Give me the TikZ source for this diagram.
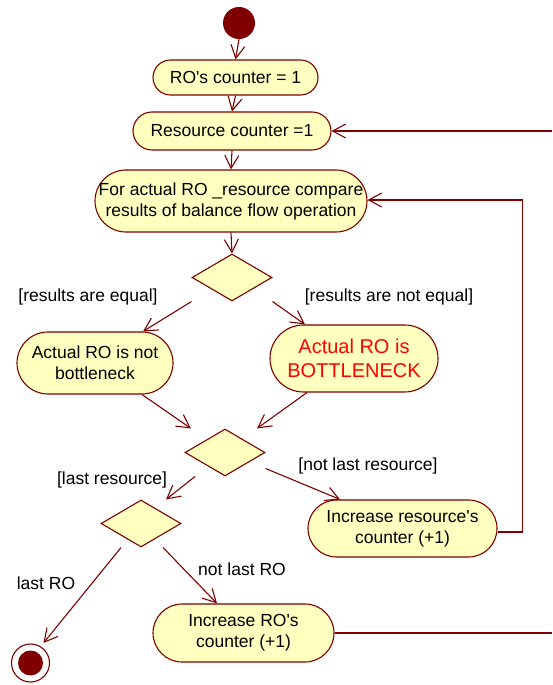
\documentclass[tikz,border=0pt]{standalone}
\usepackage{fontspec}
\setmainfont{Liberation Sans}
\usetikzlibrary{arrows.meta,shapes.geometric}

\definecolor{umlline}{RGB}{128,0,0}
\definecolor{umlfill}{RGB}{255,255,192}
\definecolor{alertred}{RGB}{255,0,0}

\tikzset{
  action/.style={draw=umlline, fill=umlfill, line width=1.1pt, inner sep=0pt,
    align=center, font=\fontsize{17.5}{21}\selectfont},
  decision/.style={draw=umlline, fill=umlfill, line width=1.1pt, shape=diamond,
    inner sep=0pt, minimum width=80pt, minimum height=47pt},
  guard/.style={inner sep=0pt, font=\fontsize{17.5}{21}\selectfont},
  flow/.style={draw=umlline, line width=1.1pt,
    -{Straight Barb[length=13pt,width=14pt,line width=1.1pt]}},
  plain/.style={draw=umlline, line width=1.1pt},
}

\begin{document}
\begin{tikzpicture}[x=1pt,y=1pt]
\useasboundingbox (0,0) rectangle (552,685);

% initial and final states
\node[circle, fill=umlline, minimum size=32pt, inner sep=0pt] (start) at (239,662) {};
\node[circle, draw=umlline, fill=white, line width=1.1pt, minimum size=38pt, inner sep=0pt] (endn) at (30.5,22) {};
\fill[umlline] (endn.center) circle (12.5pt);

% actions
\node[action, minimum width=165pt, minimum height=35pt, rounded corners=17.5pt] (ro) at (235.5,607.5) {RO\textquotesingle s counter = 1};
\node[action, minimum width=198pt, minimum height=38pt, rounded corners=19pt] (res) at (232,554) {Resource counter =1};
\node[action, minimum width=272pt, minimum height=62pt, rounded corners=31pt] (cmp) at (231,484) {For actual RO \_resource compare\\results of balance flow operation};
\node[action, minimum width=156pt, minimum height=62pt, rounded corners=31pt] (notb) at (95,322) {Actual RO is not\\bottleneck};
\node[action, minimum width=168pt, minimum height=67pt, rounded corners=33.5pt, text=alertred, font=\fontsize{20}{24}\selectfont] (bott) at (354,326.5) {Actual RO is\\BOTTLENECK};
\node[action, minimum width=189pt, minimum height=57pt, rounded corners=28.5pt] (incres) at (402.5,156.5) {Increase resource\textquotesingle s\\counter (+1)};
\node[action, minimum width=181pt, minimum height=58pt, rounded corners=29pt] (incro) at (243.5,52) {Increase RO\textquotesingle s\\counter (+1)};

% decisions
\node[decision] (d1) at (232,407.5) {};
\node[decision] (d2) at (225,232.5) {};
\node[decision] (d3) at (141,161.5) {};

% loop corners and free ends
\coordinate (loopin) at (522.5,485);
\coordinate (loopout) at (522.5,153);
\coordinate (topedge) at (552,554);
\coordinate (botedge) at (552,52);

% main flow
\draw[flow] (start.south) -- (ro.north);
\draw[flow] (ro.south) -- (res.north);
\draw[flow] (res.south) -- (cmp.north);
\draw[flow] (cmp.south) -- (d1.north);

\draw[flow] (d1.west |- d1.south) -- ([xshift=48pt]notb.north);
\draw[flow] (d1.east |- d1.south) -- ([xshift=-49pt]bott.north);
\draw[flow] ([xshift=47pt]notb.south) -- ([xshift=-34pt]d2.north);
\draw[flow] ([xshift=-47pt]bott.south) -- ([xshift=32pt]d2.north);
\draw[flow] ([xshift=-30pt]d2.south) -- ([xshift=25pt]d3.north);
\draw[flow] ([yshift=-16pt]d2.east) -- ([xshift=-62.5pt]incres.north);
\draw[flow] ([xshift=-20pt]d3.south) -- ([xshift=13pt,yshift=20pt]endn.center);
\draw[flow] ([xshift=22pt]d3.south) -- ([xshift=-26.5pt]incro.north);

% loops back
\draw[plain] (incres.east |- loopout) -- (loopout) -- (loopin);
\draw[flow] (loopin) -- (cmp.east |- loopin);
\draw[flow] (topedge) -- (res.east);
\draw[plain] (incro.east) -- (botedge);

% guards
\node[guard] (g1) at (88,388) {[results are equal]};
\node[guard] (g2) at (389,388) {[results are not equal]};
\node[guard] (g3) at (112,205) {[last resource]};
\node[guard] (g4) at (368,219) {[not last resource]};
\node[guard] (g5) at (46,102) {last RO};
\node[guard] (g6) at (242,116) {not last RO};
\end{tikzpicture}
\end{document}
